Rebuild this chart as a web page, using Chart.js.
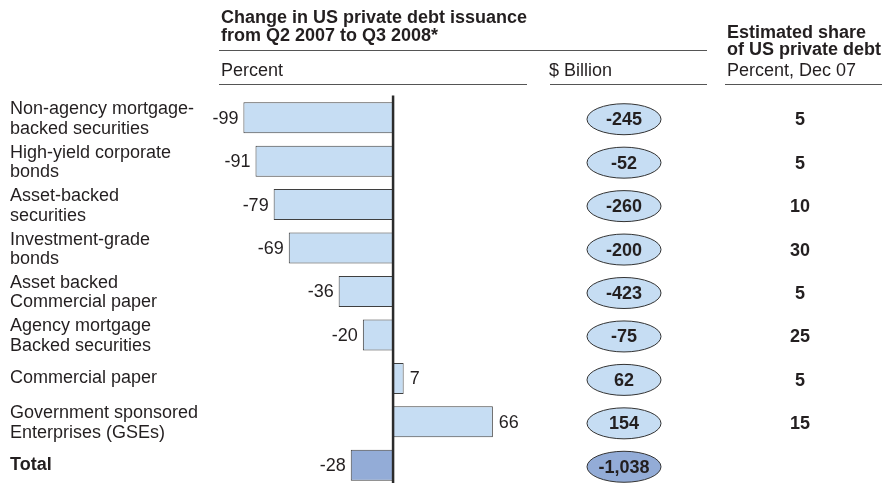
<!DOCTYPE html>
<html>
<head>
<meta charset="utf-8">
<script src="https://cdn.jsdelivr.net/npm/chart.js@4/dist/chart.umd.min.js"></script>
<style>
  html, body { margin: 0; padding: 0; background: #fff; overflow: hidden; }
  #wrap { position: relative; width: 882px; height: 487px; }
</style>
</head>
<body>
<div id="wrap"><canvas id="chart"></canvas></div>
<script>
// data
const categories = [
    ['Non-agency mortgage-', 'backed securities'],
    ['High-yield corporate', 'bonds'],
    ['Asset-backed', 'securities'],
    ['Investment-grade', 'bonds'],
    ['Asset backed', 'Commercial paper'],
    ['Agency mortgage', 'Backed securities'],
    ['Commercial paper'],
    ['Government sponsored', 'Enterprises (GSEs)'],
    ['Total']
];
const pctChange = [-99, -91, -79, -69, -36, -20, 7, 66, -28];
const billionChange = [-245, -52, -260, -200, -423, -75, 62, 154, -1038];
const shareDec07 = [5, 5, 10, 30, 5, 25, 5, 15, null];

const FONT = '"Liberation Sans", Arial, sans-serif';
const TEXT = '#231f20';
const LIGHT = '#c6ddf3';
const DARK = '#93acd7';

const fillColors = categories.map((c, i) => i === categories.length - 1 ? DARK : LIGHT);

const fmt = (v) => v.toLocaleString('en-US');

const decor = {
    id: 'decor',
    afterDatasetsDraw(chart) {
        const ctx = chart.ctx;
        const xs = chart.scales.x;
        const area = chart.chartArea;
        const bars = chart.getDatasetMeta(0).data;
        ctx.save();

        // headers
        ctx.fillStyle = TEXT;
        ctx.textAlign = 'left';
        ctx.textBaseline = 'alphabetic';
        ctx.font = 'bold 18px ' + FONT;
        ctx.fillText('Change in US private debt issuance', 221, 23);
        ctx.fillText('from Q2 2007 to Q3 2008*', 221, 41);
        ctx.fillText('Estimated share', 727, 37.5);
        ctx.fillText('of US private debt', 727, 54.5);
        ctx.font = '18px ' + FONT;
        ctx.fillText('Percent', 221, 75.5);
        ctx.fillText('$ Billion', 549, 75.5);
        ctx.fillText('Percent, Dec 07', 727, 75.5);

        ctx.strokeStyle = '#555';
        ctx.lineWidth = 1;
        ctx.beginPath();
        ctx.moveTo(219, 50.5); ctx.lineTo(707, 50.5);
        ctx.moveTo(219, 84.5); ctx.lineTo(527, 84.5);
        ctx.moveTo(550, 84.5); ctx.lineTo(707, 84.5);
        ctx.moveTo(725, 84.5); ctx.lineTo(882, 84.5);
        ctx.stroke();

        // zero line
        const x0 = xs.getPixelForValue(0);
        ctx.strokeStyle = '#2b2b2b';
        ctx.lineWidth = 2.5;
        ctx.beginPath();
        ctx.moveTo(x0, area.top - 0.5);
        ctx.lineTo(x0, chart.height);
        ctx.stroke();

        bars.forEach((bar, i) => {
            const y = bar.y;
            const last = i === categories.length - 1;

            // category labels
            ctx.fillStyle = TEXT;
            ctx.textAlign = 'left';
            ctx.textBaseline = 'middle';
            ctx.font = (last ? 'bold ' : '') + '18px ' + FONT;
            const lines = categories[i];
            if (lines.length === 2) {
                ctx.fillText(lines[0], 10, y - 8.5);
                ctx.fillText(lines[1], 10, y + 11);
            } else {
                ctx.fillText(lines[0], 10, y);
            }

            // bar value labels
            ctx.font = '18px ' + FONT;
            const v = pctChange[i];
            if (v < 0) {
                ctx.textAlign = 'right';
                ctx.fillText(String(v), bar.x - 5, y + 1);
            } else {
                ctx.textAlign = 'left';
                ctx.fillText(String(v), bar.x + 6, y + 1);
            }

            // $ billion ellipses
            ctx.beginPath();
            ctx.ellipse(624, y + 1.5, 37, 15.5, 0, 0, Math.PI * 2);
            ctx.fillStyle = last ? DARK : LIGHT;
            ctx.fill();
            ctx.strokeStyle = '#333';
            ctx.lineWidth = 1;
            ctx.stroke();
            ctx.fillStyle = TEXT;
            ctx.textAlign = 'center';
            ctx.font = 'bold 18px ' + FONT;
            ctx.fillText(fmt(billionChange[i]), 624, y + 2.5);

            // share column
            if (shareDec07[i] !== null) {
                ctx.fillText(String(shareDec07[i]), 800, y + 2.5);
            }
        });
        ctx.restore();
    }
};

new Chart(document.getElementById('chart'), {
    type: 'bar',
    data: {
        labels: categories,
        datasets: [{
            data: pctChange,
            backgroundColor: fillColors,
            borderColor: '#3f3f3f',
            borderWidth: 1,
            borderSkipped: false,
            barPercentage: 0.714,
            categoryPercentage: 1.0
        }]
    },
    options: {
        indexAxis: 'y',
        responsive: true,
        maintainAspectRatio: false,
        animation: false,
        layout: { padding: { top: 96, left: 0, right: 0, bottom: 0 } },
        scales: {
            x: { display: false, min: -260, max: 323.4 },
            y: { display: false }
        },
        plugins: {
            legend: { display: false },
            tooltip: { enabled: false }
        }
    },
    plugins: [decor]
});
</script>
</body>
</html>
